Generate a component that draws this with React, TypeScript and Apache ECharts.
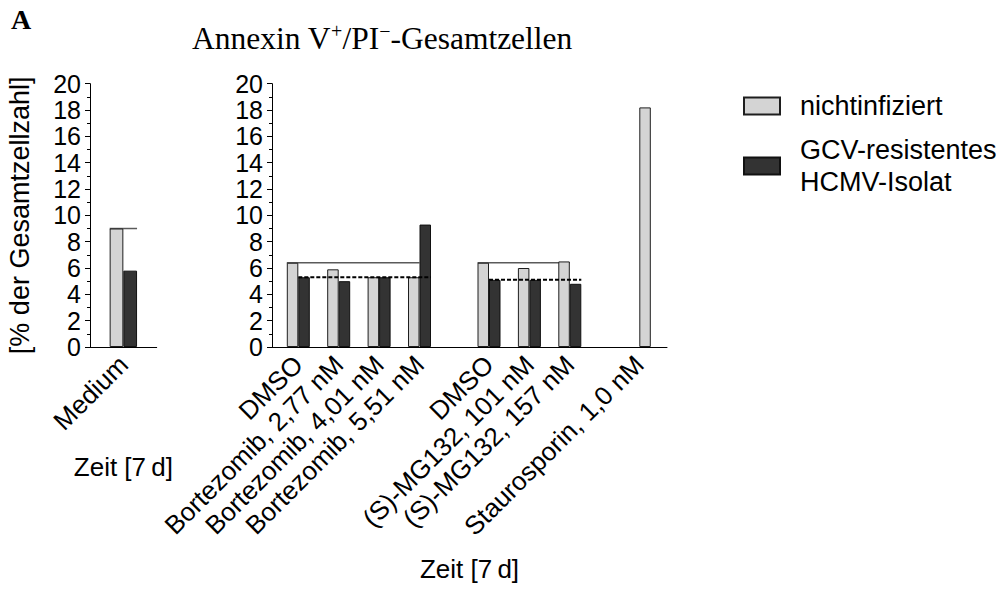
import React, { useEffect, useRef } from "react";
import * as echarts from "echarts";

// Y scale shared by both panels
const yMin = 0;
const yMax = 20;
const yStep = 2;

// Untreated control, 7 d
const mediumCategories = ["Medium"];
const mediumUninfected = [9.0];
const mediumInfected = [5.8];

// Bortezomib series with its DMSO vehicle control
const bortezomibCategories = [
  "DMSO",
  "Bortezomib, 2,77 nM",
  "Bortezomib, 4,01 nM",
  "Bortezomib, 5,51 nM",
];
const bortezomibUninfected = [6.4, 5.9, 5.3, 5.3];
const bortezomibInfected = [5.3, 5.0, 5.3, 9.3];

// (S)-MG132 series with its DMSO vehicle control
const mg132Categories = ["DMSO", "(S)-MG132, 101 nM", "(S)-MG132, 157 nM"];
const mg132Uninfected = [6.4, 6.0, 6.5];
const mg132Infected = [5.1, 5.1, 4.8];

// Positive control for apoptosis (uninfected cells only)
const controlCategories = ["Staurosporin, 1,0 nM"];
const controlUninfected = [18.2];

const seriesNames = ["nichtinfiziert", "GCV-resistentes HCMV-Isolat"];
const xAxisName = "Zeit [7\u2009d]";
const yAxisName = "[% der Gesamtzellzahl]";
const panelLetter = "A";

const SANS = "'Liberation Sans', Arial, Helvetica, sans-serif";
const SERIF = "'Liberation Serif', 'Times New Roman', serif";
const LIGHT = "#d4d4d4";
const DARK = "#333333";
const EDGE = "#1e1e1e";

const PLOT_TOP = 83.7;
const PLOT_H = 263.3;
const BW_LEFT = 13.7;
const BW_RIGHT = 11.5;

const lightStyle = { color: LIGHT, borderColor: EDGE, borderWidth: 1 };
const darkStyle = { color: DARK, borderColor: "#111", borderWidth: 1 };

// Horizontal reference line from one category to another, offset in bar slots
function refLine(bw: number, startSlot: number, endSlot: number, dashed: boolean) {
  return (_params: any, api: any) => {
    const v = api.value(2);
    const a = api.coord([api.value(0), v]);
    const b = api.coord([api.value(1), v]);
    return {
      type: "line",
      shape: { x1: a[0] + startSlot * bw, y1: a[1], x2: b[0] + endSlot * bw, y2: b[1] },
      style: dashed
        ? { stroke: "#000", lineWidth: 2, lineDash: [4, 2] }
        : { stroke: "#5a5a5a", lineWidth: 1.5 },
    };
  };
}

const catLabel = {
  rotate: 45,
  interval: 0,
  fontSize: 26,
  fontFamily: SANS,
  color: "#000",
  margin: 13,
};

function hiddenCatAxis(gridIndex: number, data: string[]) {
  return {
    type: "category",
    gridIndex,
    data,
    axisLine: { show: false },
    axisTick: { show: false },
    axisLabel: catLabel,
  };
}

function hiddenValueAxis(gridIndex: number) {
  return { type: "value", gridIndex, min: yMin, max: yMax, show: false };
}

function visibleValueAxis(gridIndex: number, extra: any = {}) {
  return {
    type: "value",
    gridIndex,
    min: yMin,
    max: yMax,
    interval: yStep,
    axisLine: { show: true, lineStyle: { color: "#000", width: 1 } },
    axisTick: { show: true, length: 5, lineStyle: { color: "#000" } },
    minorTick: { show: true, splitNumber: 2, length: 3, lineStyle: { color: "#000" } },
    splitLine: { show: false },
    minorSplitLine: { show: false },
    axisLabel: { fontSize: 25, fontFamily: SANS, color: "#000", margin: 9 },
    ...extra,
  };
}

function barPair(axis: number, bw: number, light: (number | null)[], dark: (number | null)[]) {
  return [
    {
      name: seriesNames[0],
      type: "bar",
      xAxisIndex: axis,
      yAxisIndex: axis,
      data: light,
      barWidth: bw,
      barGap: "0%",
      itemStyle: lightStyle,
      z: 2,
    },
    {
      name: seriesNames[1],
      type: "bar",
      xAxisIndex: axis,
      yAxisIndex: axis,
      data: dark,
      barWidth: bw,
      barGap: "0%",
      itemStyle: darkStyle,
      z: 2,
    },
  ];
}

function lineSeries(axis: number, bw: number, data: number[][], s: number, e: number, dashed: boolean) {
  return {
    type: "custom",
    xAxisIndex: axis,
    yAxisIndex: axis,
    encode: { x: [0, 1], y: 2 },
    data,
    renderItem: refLine(bw, s, e, dashed),
    z: dashed ? 5 : 1,
    silent: true,
  };
}

export default function App() {
  const ref = useRef<HTMLDivElement>(null);

  useEffect(() => {
    if (!ref.current) return;
    const chart = echarts.init(ref.current, undefined, { renderer: "svg" });
    const grid = (left: number, width: number) => ({ left, width, top: PLOT_TOP, height: PLOT_H });

    const option: any = {
      animation: false,
      backgroundColor: "#fff",
      title: {
        text: "Annexin V{sup|+}/PI{sup|\u2212}-Gesamtzellen",
        left: 187,
        top: 16,
        textStyle: {
          fontFamily: SERIF,
          fontSize: 31.5,
          fontWeight: "normal",
          color: "#000",
          lineHeight: 34,
          rich: {
            sup: { fontFamily: SERIF, fontSize: 20, verticalAlign: "top", color: "#000", lineHeight: 34 },
          },
        },
      },
      graphic: [
        {
          type: "text",
          left: 11,
          top: 5,
          style: { text: panelLetter, font: `bold 28px ${SERIF}`, fill: "#000" },
        },
      ],
      legend: {
        data: seriesNames,
        orient: "vertical",
        left: 743,
        top: 90,
        padding: 0,
        itemWidth: 36,
        itemHeight: 17,
        itemGap: 12,
        icon: "rect",
        selectedMode: false,
        formatter: (n: string) => n.replace(" ", "\n"),
        textStyle: {
          fontFamily: SANS,
          fontSize: 27,
          lineHeight: 32,
          color: "#000",
          padding: [0, 0, 0, 15],
        },
      },
      grid: [
        grid(90, 66.7),
        grid(272, 395),
        grid(278.1, 161.6),
        grid(468.8, 121.2),
        grid(619.1, 40.4),
      ],
      xAxis: [
        {
          type: "category",
          gridIndex: 0,
          data: mediumCategories,
          axisLine: { show: true, lineStyle: { color: "#000", width: 1 } },
          axisTick: { show: false },
          axisLabel: catLabel,
          name: xAxisName,
          nameLocation: "middle",
          nameGap: 107,
          nameTextStyle: { fontFamily: SANS, fontSize: 26, color: "#000" },
        },
        {
          type: "value",
          gridIndex: 1,
          min: 0,
          max: 1,
          axisLine: { show: true, onZero: false, lineStyle: { color: "#000", width: 1 } },
          axisTick: { show: false },
          axisLabel: { show: false },
          splitLine: { show: false },
          name: xAxisName,
          nameLocation: "middle",
          nameGap: 209,
          nameTextStyle: { fontFamily: SANS, fontSize: 26, color: "#000" },
        },
        hiddenCatAxis(2, bortezomibCategories),
        hiddenCatAxis(3, mg132Categories),
        hiddenCatAxis(4, controlCategories),
      ],
      yAxis: [
        visibleValueAxis(0, {
          name: yAxisName,
          nameLocation: "middle",
          nameRotate: 90,
          nameGap: 57,
          nameTextStyle: { fontFamily: SANS, fontSize: 27, color: "#000" },
        }),
        visibleValueAxis(1),
        hiddenValueAxis(2),
        hiddenValueAxis(3),
        hiddenValueAxis(4),
      ],
      series: [
        ...barPair(0, BW_LEFT, mediumUninfected, mediumInfected),
        ...barPair(2, BW_RIGHT, bortezomibUninfected, bortezomibInfected),
        ...barPair(3, BW_RIGHT, mg132Uninfected, mg132Infected),
        {
          name: seriesNames[0],
          type: "bar",
          xAxisIndex: 4,
          yAxisIndex: 4,
          data: controlCategories.map(() => null),
          barWidth: BW_RIGHT,
          barGap: "0%",
          itemStyle: lightStyle,
        },
        {
          name: seriesNames[0],
          type: "bar",
          xAxisIndex: 4,
          yAxisIndex: 4,
          data: controlUninfected,
          barWidth: BW_RIGHT,
          barGap: "0%",
          itemStyle: lightStyle,
          z: 2,
        },
        // Medium reference across both bars
        lineSeries(0, BW_LEFT, [[0, 0, mediumUninfected[0]]], -1, 1, false),
        // DMSO reference levels for each treatment block
        lineSeries(2, BW_RIGHT, [[0, bortezomibCategories.length - 1, bortezomibUninfected[0]]], -1, 0, false),
        lineSeries(2, BW_RIGHT, [[0, bortezomibCategories.length - 1, bortezomibInfected[0]]], 0, 1, true),
        lineSeries(3, BW_RIGHT, [[0, mg132Categories.length - 1, mg132Uninfected[0]]], -1, 0, false),
        lineSeries(3, BW_RIGHT, [[0, mg132Categories.length - 1, mg132Infected[0]]], 0, 1, true),
      ],
    };

    chart.setOption(option);
    return () => chart.dispose();
  }, []);

  return (
    <div
      ref={ref}
      style={{ position: "fixed", left: 0, top: 0, width: 1004, height: 590, background: "#fff" }}
    />
  );
}
